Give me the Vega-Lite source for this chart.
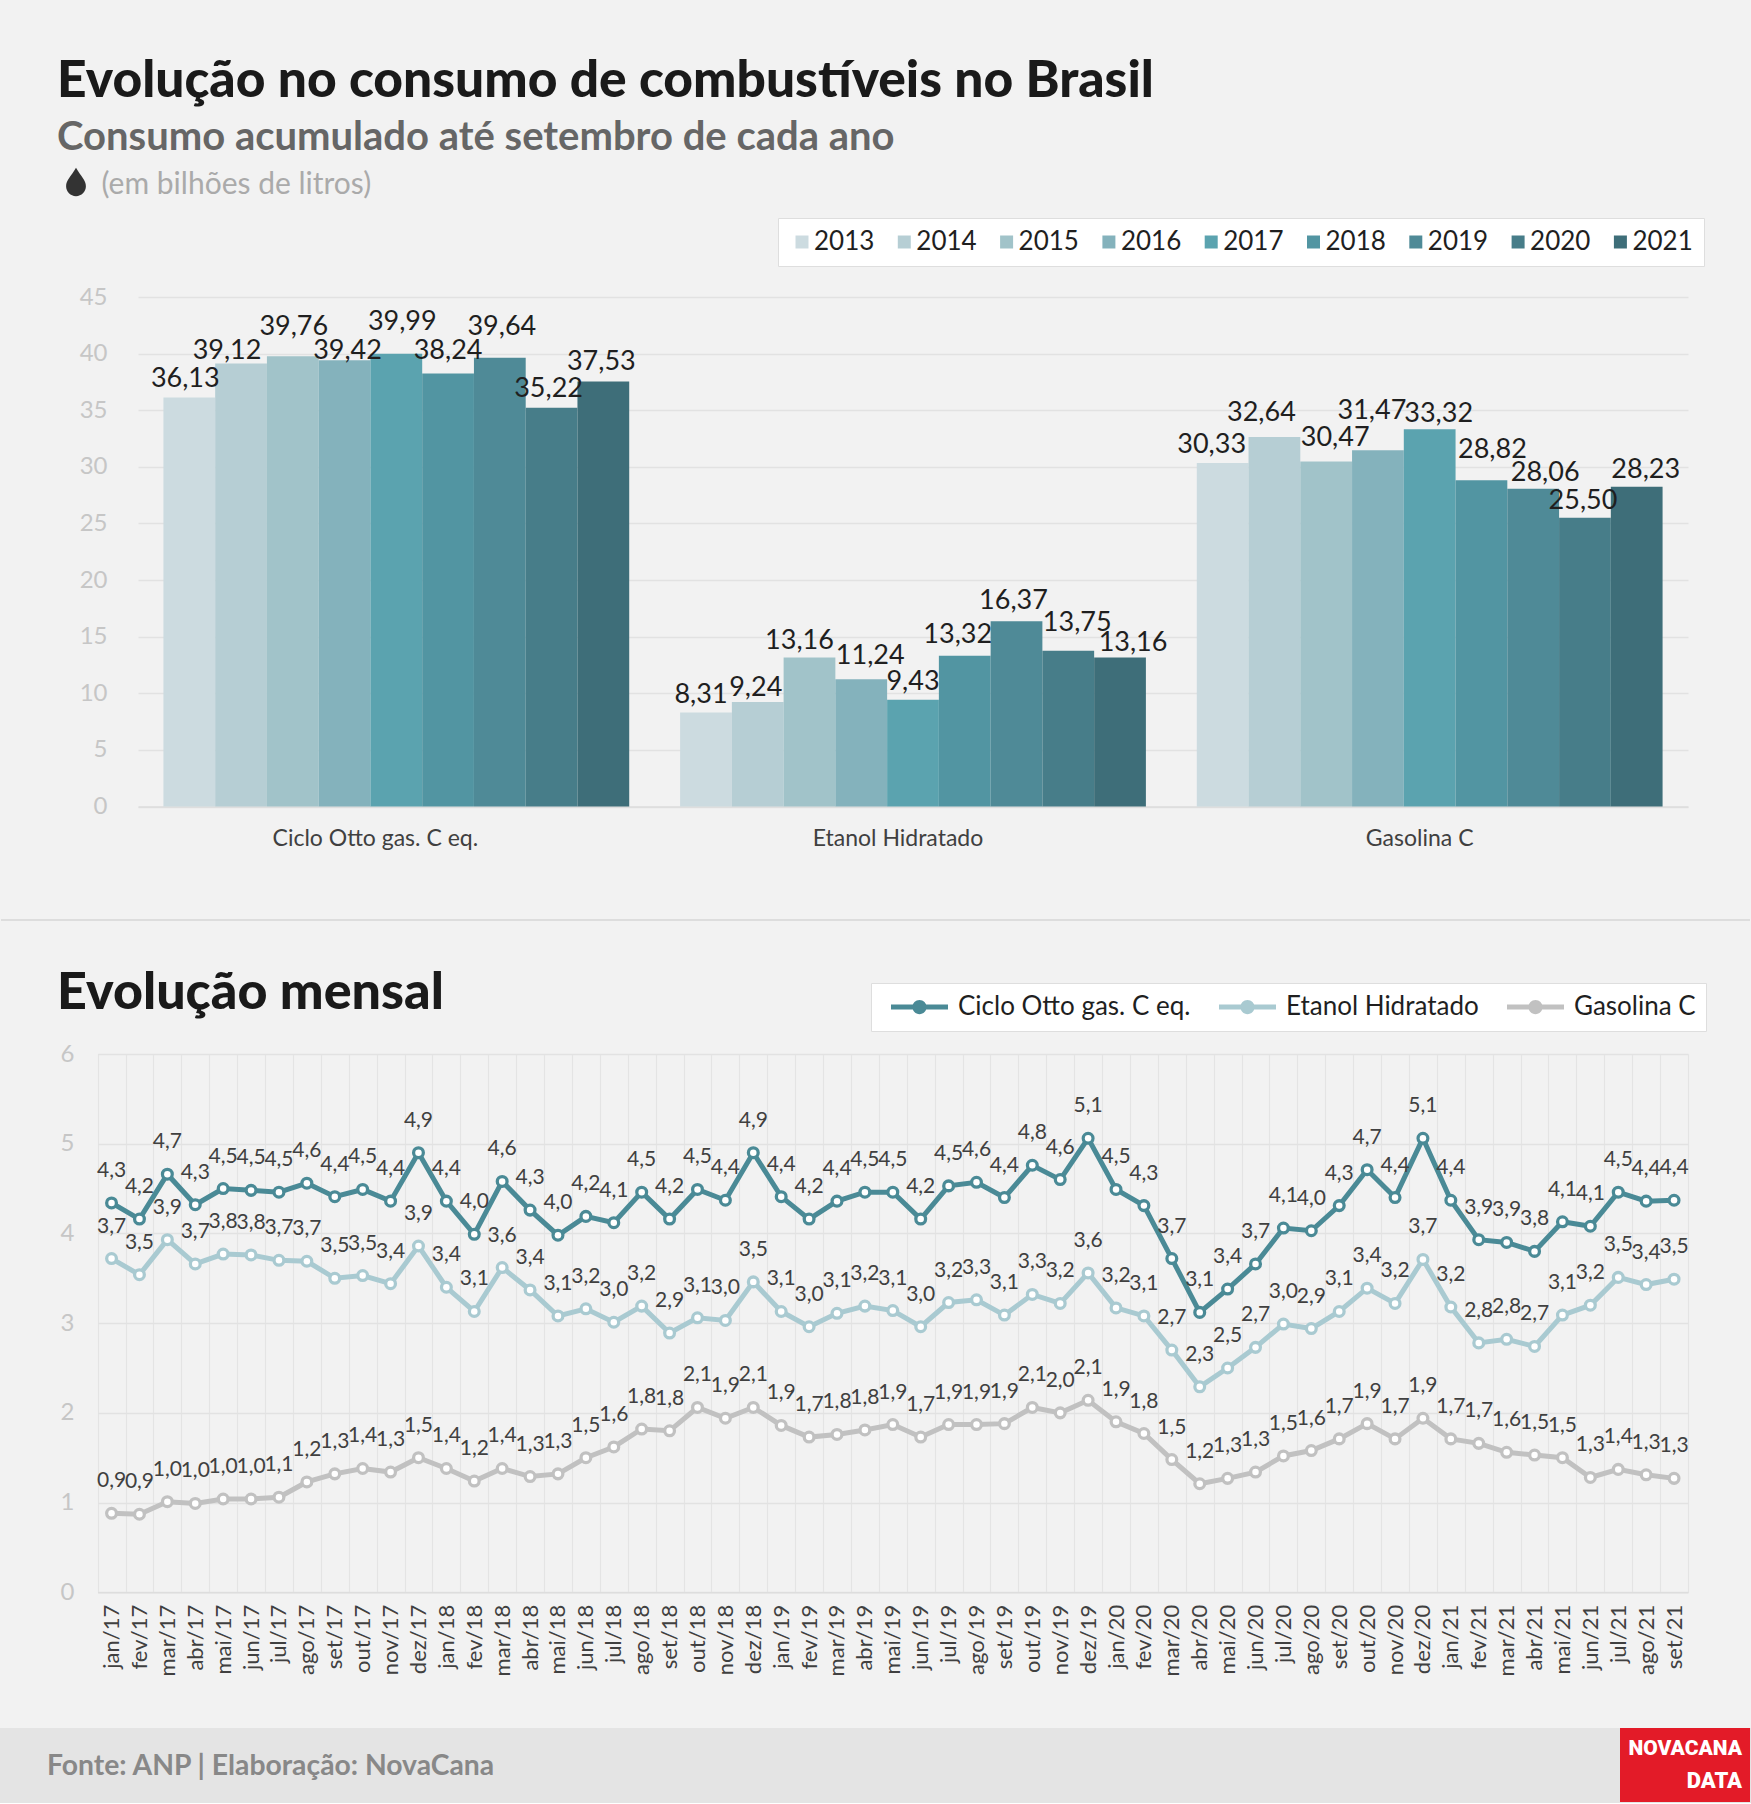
{
  "$schema": "https://vega.github.io/schema/vega-lite/v6.json",
  "background": "#f2f2f2",
  "padding": {"left": 0, "top": 56, "right": 0, "bottom": 0},
  "config": {
    "font": "Lato",
    "locale": {"number": {"decimal": ",", "thousands": ".", "grouping": [3], "currency": ["R$", ""]}},
    "view": {"stroke": null}
  },
  "spacing": 45,
  "resolve": {"scale": {"color": "independent"}, "legend": {"color": "independent"}},
  "datasets": {
    "acumulado": [
      {"combustivel": "Ciclo Otto gas. C eq.", "ano": 2013, "valor": 36.13},
      {"combustivel": "Ciclo Otto gas. C eq.", "ano": 2014, "valor": 39.12},
      {"combustivel": "Ciclo Otto gas. C eq.", "ano": 2015, "valor": 39.76},
      {"combustivel": "Ciclo Otto gas. C eq.", "ano": 2016, "valor": 39.42},
      {"combustivel": "Ciclo Otto gas. C eq.", "ano": 2017, "valor": 39.99},
      {"combustivel": "Ciclo Otto gas. C eq.", "ano": 2018, "valor": 38.24},
      {"combustivel": "Ciclo Otto gas. C eq.", "ano": 2019, "valor": 39.64},
      {"combustivel": "Ciclo Otto gas. C eq.", "ano": 2020, "valor": 35.22},
      {"combustivel": "Ciclo Otto gas. C eq.", "ano": 2021, "valor": 37.53},
      {"combustivel": "Etanol Hidratado", "ano": 2013, "valor": 8.31},
      {"combustivel": "Etanol Hidratado", "ano": 2014, "valor": 9.24},
      {"combustivel": "Etanol Hidratado", "ano": 2015, "valor": 13.16},
      {"combustivel": "Etanol Hidratado", "ano": 2016, "valor": 11.24},
      {"combustivel": "Etanol Hidratado", "ano": 2017, "valor": 9.43},
      {"combustivel": "Etanol Hidratado", "ano": 2018, "valor": 13.32},
      {"combustivel": "Etanol Hidratado", "ano": 2019, "valor": 16.37},
      {"combustivel": "Etanol Hidratado", "ano": 2020, "valor": 13.75},
      {"combustivel": "Etanol Hidratado", "ano": 2021, "valor": 13.16},
      {"combustivel": "Gasolina C", "ano": 2013, "valor": 30.33},
      {"combustivel": "Gasolina C", "ano": 2014, "valor": 32.64},
      {"combustivel": "Gasolina C", "ano": 2015, "valor": 30.47},
      {"combustivel": "Gasolina C", "ano": 2016, "valor": 31.47},
      {"combustivel": "Gasolina C", "ano": 2017, "valor": 33.32},
      {"combustivel": "Gasolina C", "ano": 2018, "valor": 28.82},
      {"combustivel": "Gasolina C", "ano": 2019, "valor": 28.06},
      {"combustivel": "Gasolina C", "ano": 2020, "valor": 25.5},
      {"combustivel": "Gasolina C", "ano": 2021, "valor": 28.23}
    ],
    "mensal": [
      {"mes":"jan/17","serie":"Ciclo Otto gas. C eq.","valor":4.34},{"mes":"fev/17","serie":"Ciclo Otto gas. C eq.","valor":4.16},{"mes":"mar/17","serie":"Ciclo Otto gas. C eq.","valor":4.66},{"mes":"abr/17","serie":"Ciclo Otto gas. C eq.","valor":4.32},{"mes":"mai/17","serie":"Ciclo Otto gas. C eq.","valor":4.5},{"mes":"jun/17","serie":"Ciclo Otto gas. C eq.","valor":4.48},{"mes":"jul/17","serie":"Ciclo Otto gas. C eq.","valor":4.46},{"mes":"ago/17","serie":"Ciclo Otto gas. C eq.","valor":4.56},{"mes":"set/17","serie":"Ciclo Otto gas. C eq.","valor":4.41},{"mes":"out/17","serie":"Ciclo Otto gas. C eq.","valor":4.49},{"mes":"nov/17","serie":"Ciclo Otto gas. C eq.","valor":4.36},{"mes":"dez/17","serie":"Ciclo Otto gas. C eq.","valor":4.9},
      {"mes":"jan/18","serie":"Ciclo Otto gas. C eq.","valor":4.36},{"mes":"fev/18","serie":"Ciclo Otto gas. C eq.","valor":3.99},{"mes":"mar/18","serie":"Ciclo Otto gas. C eq.","valor":4.58},{"mes":"abr/18","serie":"Ciclo Otto gas. C eq.","valor":4.26},{"mes":"mai/18","serie":"Ciclo Otto gas. C eq.","valor":3.98},{"mes":"jun/18","serie":"Ciclo Otto gas. C eq.","valor":4.19},{"mes":"jul/18","serie":"Ciclo Otto gas. C eq.","valor":4.12},{"mes":"ago/18","serie":"Ciclo Otto gas. C eq.","valor":4.46},{"mes":"set/18","serie":"Ciclo Otto gas. C eq.","valor":4.16},{"mes":"out/18","serie":"Ciclo Otto gas. C eq.","valor":4.49},{"mes":"nov/18","serie":"Ciclo Otto gas. C eq.","valor":4.37},{"mes":"dez/18","serie":"Ciclo Otto gas. C eq.","valor":4.9},
      {"mes":"jan/19","serie":"Ciclo Otto gas. C eq.","valor":4.41},{"mes":"fev/19","serie":"Ciclo Otto gas. C eq.","valor":4.16},{"mes":"mar/19","serie":"Ciclo Otto gas. C eq.","valor":4.36},{"mes":"abr/19","serie":"Ciclo Otto gas. C eq.","valor":4.46},{"mes":"mai/19","serie":"Ciclo Otto gas. C eq.","valor":4.46},{"mes":"jun/19","serie":"Ciclo Otto gas. C eq.","valor":4.16},{"mes":"jul/19","serie":"Ciclo Otto gas. C eq.","valor":4.53},{"mes":"ago/19","serie":"Ciclo Otto gas. C eq.","valor":4.57},{"mes":"set/19","serie":"Ciclo Otto gas. C eq.","valor":4.4},{"mes":"out/19","serie":"Ciclo Otto gas. C eq.","valor":4.76},{"mes":"nov/19","serie":"Ciclo Otto gas. C eq.","valor":4.6},{"mes":"dez/19","serie":"Ciclo Otto gas. C eq.","valor":5.06},
      {"mes":"jan/20","serie":"Ciclo Otto gas. C eq.","valor":4.49},{"mes":"fev/20","serie":"Ciclo Otto gas. C eq.","valor":4.31},{"mes":"mar/20","serie":"Ciclo Otto gas. C eq.","valor":3.72},{"mes":"abr/20","serie":"Ciclo Otto gas. C eq.","valor":3.12},{"mes":"mai/20","serie":"Ciclo Otto gas. C eq.","valor":3.38},{"mes":"jun/20","serie":"Ciclo Otto gas. C eq.","valor":3.66},{"mes":"jul/20","serie":"Ciclo Otto gas. C eq.","valor":4.06},{"mes":"ago/20","serie":"Ciclo Otto gas. C eq.","valor":4.03},{"mes":"set/20","serie":"Ciclo Otto gas. C eq.","valor":4.31},{"mes":"out/20","serie":"Ciclo Otto gas. C eq.","valor":4.71},{"mes":"nov/20","serie":"Ciclo Otto gas. C eq.","valor":4.4},{"mes":"dez/20","serie":"Ciclo Otto gas. C eq.","valor":5.06},
      {"mes":"jan/21","serie":"Ciclo Otto gas. C eq.","valor":4.37},{"mes":"fev/21","serie":"Ciclo Otto gas. C eq.","valor":3.93},{"mes":"mar/21","serie":"Ciclo Otto gas. C eq.","valor":3.9},{"mes":"abr/21","serie":"Ciclo Otto gas. C eq.","valor":3.8},{"mes":"mai/21","serie":"Ciclo Otto gas. C eq.","valor":4.13},{"mes":"jun/21","serie":"Ciclo Otto gas. C eq.","valor":4.08},{"mes":"jul/21","serie":"Ciclo Otto gas. C eq.","valor":4.46},{"mes":"ago/21","serie":"Ciclo Otto gas. C eq.","valor":4.36},{"mes":"set/21","serie":"Ciclo Otto gas. C eq.","valor":4.37},
      {"mes":"jan/17","serie":"Etanol Hidratado","valor":3.72},{"mes":"fev/17","serie":"Etanol Hidratado","valor":3.54},{"mes":"mar/17","serie":"Etanol Hidratado","valor":3.93},{"mes":"abr/17","serie":"Etanol Hidratado","valor":3.66},{"mes":"mai/17","serie":"Etanol Hidratado","valor":3.77},{"mes":"jun/17","serie":"Etanol Hidratado","valor":3.76},{"mes":"jul/17","serie":"Etanol Hidratado","valor":3.7},{"mes":"ago/17","serie":"Etanol Hidratado","valor":3.69},{"mes":"set/17","serie":"Etanol Hidratado","valor":3.5},{"mes":"out/17","serie":"Etanol Hidratado","valor":3.53},{"mes":"nov/17","serie":"Etanol Hidratado","valor":3.44},{"mes":"dez/17","serie":"Etanol Hidratado","valor":3.86},
      {"mes":"jan/18","serie":"Etanol Hidratado","valor":3.4},{"mes":"fev/18","serie":"Etanol Hidratado","valor":3.13},{"mes":"mar/18","serie":"Etanol Hidratado","valor":3.62},{"mes":"abr/18","serie":"Etanol Hidratado","valor":3.37},{"mes":"mai/18","serie":"Etanol Hidratado","valor":3.08},{"mes":"jun/18","serie":"Etanol Hidratado","valor":3.16},{"mes":"jul/18","serie":"Etanol Hidratado","valor":3.01},{"mes":"ago/18","serie":"Etanol Hidratado","valor":3.19},{"mes":"set/18","serie":"Etanol Hidratado","valor":2.89},{"mes":"out/18","serie":"Etanol Hidratado","valor":3.06},{"mes":"nov/18","serie":"Etanol Hidratado","valor":3.03},{"mes":"dez/18","serie":"Etanol Hidratado","valor":3.46},
      {"mes":"jan/19","serie":"Etanol Hidratado","valor":3.13},{"mes":"fev/19","serie":"Etanol Hidratado","valor":2.96},{"mes":"mar/19","serie":"Etanol Hidratado","valor":3.11},{"mes":"abr/19","serie":"Etanol Hidratado","valor":3.19},{"mes":"mai/19","serie":"Etanol Hidratado","valor":3.14},{"mes":"jun/19","serie":"Etanol Hidratado","valor":2.96},{"mes":"jul/19","serie":"Etanol Hidratado","valor":3.23},{"mes":"ago/19","serie":"Etanol Hidratado","valor":3.26},{"mes":"set/19","serie":"Etanol Hidratado","valor":3.09},{"mes":"out/19","serie":"Etanol Hidratado","valor":3.32},{"mes":"nov/19","serie":"Etanol Hidratado","valor":3.22},{"mes":"dez/19","serie":"Etanol Hidratado","valor":3.56},
      {"mes":"jan/20","serie":"Etanol Hidratado","valor":3.17},{"mes":"fev/20","serie":"Etanol Hidratado","valor":3.08},{"mes":"mar/20","serie":"Etanol Hidratado","valor":2.7},{"mes":"abr/20","serie":"Etanol Hidratado","valor":2.29},{"mes":"mai/20","serie":"Etanol Hidratado","valor":2.5},{"mes":"jun/20","serie":"Etanol Hidratado","valor":2.73},{"mes":"jul/20","serie":"Etanol Hidratado","valor":2.99},{"mes":"ago/20","serie":"Etanol Hidratado","valor":2.94},{"mes":"set/20","serie":"Etanol Hidratado","valor":3.13},{"mes":"out/20","serie":"Etanol Hidratado","valor":3.39},{"mes":"nov/20","serie":"Etanol Hidratado","valor":3.22},{"mes":"dez/20","serie":"Etanol Hidratado","valor":3.71},
      {"mes":"jan/21","serie":"Etanol Hidratado","valor":3.18},{"mes":"fev/21","serie":"Etanol Hidratado","valor":2.78},{"mes":"mar/21","serie":"Etanol Hidratado","valor":2.82},{"mes":"abr/21","serie":"Etanol Hidratado","valor":2.74},{"mes":"mai/21","serie":"Etanol Hidratado","valor":3.09},{"mes":"jun/21","serie":"Etanol Hidratado","valor":3.2},{"mes":"jul/21","serie":"Etanol Hidratado","valor":3.51},{"mes":"ago/21","serie":"Etanol Hidratado","valor":3.43},{"mes":"set/21","serie":"Etanol Hidratado","valor":3.49},
      {"mes":"jan/17","serie":"Gasolina C","valor":0.88},{"mes":"fev/17","serie":"Gasolina C","valor":0.87},{"mes":"mar/17","serie":"Gasolina C","valor":1.01},{"mes":"abr/17","serie":"Gasolina C","valor":0.99},{"mes":"mai/17","serie":"Gasolina C","valor":1.04},{"mes":"jun/17","serie":"Gasolina C","valor":1.04},{"mes":"jul/17","serie":"Gasolina C","valor":1.06},{"mes":"ago/17","serie":"Gasolina C","valor":1.23},{"mes":"set/17","serie":"Gasolina C","valor":1.32},{"mes":"out/17","serie":"Gasolina C","valor":1.38},{"mes":"nov/17","serie":"Gasolina C","valor":1.34},{"mes":"dez/17","serie":"Gasolina C","valor":1.5},
      {"mes":"jan/18","serie":"Gasolina C","valor":1.38},{"mes":"fev/18","serie":"Gasolina C","valor":1.24},{"mes":"mar/18","serie":"Gasolina C","valor":1.38},{"mes":"abr/18","serie":"Gasolina C","valor":1.29},{"mes":"mai/18","serie":"Gasolina C","valor":1.32},{"mes":"jun/18","serie":"Gasolina C","valor":1.5},{"mes":"jul/18","serie":"Gasolina C","valor":1.62},{"mes":"ago/18","serie":"Gasolina C","valor":1.82},{"mes":"set/18","serie":"Gasolina C","valor":1.8},{"mes":"out/18","serie":"Gasolina C","valor":2.06},{"mes":"nov/18","serie":"Gasolina C","valor":1.94},{"mes":"dez/18","serie":"Gasolina C","valor":2.06},
      {"mes":"jan/19","serie":"Gasolina C","valor":1.86},{"mes":"fev/19","serie":"Gasolina C","valor":1.73},{"mes":"mar/19","serie":"Gasolina C","valor":1.76},{"mes":"abr/19","serie":"Gasolina C","valor":1.81},{"mes":"mai/19","serie":"Gasolina C","valor":1.87},{"mes":"jun/19","serie":"Gasolina C","valor":1.73},{"mes":"jul/19","serie":"Gasolina C","valor":1.87},{"mes":"ago/19","serie":"Gasolina C","valor":1.87},{"mes":"set/19","serie":"Gasolina C","valor":1.88},{"mes":"out/19","serie":"Gasolina C","valor":2.06},{"mes":"nov/19","serie":"Gasolina C","valor":2.0},{"mes":"dez/19","serie":"Gasolina C","valor":2.14},
      {"mes":"jan/20","serie":"Gasolina C","valor":1.9},{"mes":"fev/20","serie":"Gasolina C","valor":1.77},{"mes":"mar/20","serie":"Gasolina C","valor":1.48},{"mes":"abr/20","serie":"Gasolina C","valor":1.21},{"mes":"mai/20","serie":"Gasolina C","valor":1.27},{"mes":"jun/20","serie":"Gasolina C","valor":1.34},{"mes":"jul/20","serie":"Gasolina C","valor":1.52},{"mes":"ago/20","serie":"Gasolina C","valor":1.58},{"mes":"set/20","serie":"Gasolina C","valor":1.71},{"mes":"out/20","serie":"Gasolina C","valor":1.88},{"mes":"nov/20","serie":"Gasolina C","valor":1.71},{"mes":"dez/20","serie":"Gasolina C","valor":1.94},
      {"mes":"jan/21","serie":"Gasolina C","valor":1.71},{"mes":"fev/21","serie":"Gasolina C","valor":1.66},{"mes":"mar/21","serie":"Gasolina C","valor":1.56},{"mes":"abr/21","serie":"Gasolina C","valor":1.53},{"mes":"mai/21","serie":"Gasolina C","valor":1.5},{"mes":"jun/21","serie":"Gasolina C","valor":1.28},{"mes":"jul/21","serie":"Gasolina C","valor":1.37},{"mes":"ago/21","serie":"Gasolina C","valor":1.31},{"mes":"set/21","serie":"Gasolina C","valor":1.27}
    ]
  },
  "vconcat": [
    {
      "width": 1550,
      "height": 509.5,
      "title": {
        "text": "Evolução no consumo de combustíveis no Brasil",
        "subtitle": "Consumo acumulado até setembro de cada ano",
        "anchor": "start",
        "frame": "group",
        "dx": -81,
        "offset": 10,
        "font": "Lato",
        "fontSize": 51.5,
        "fontWeight": 900,
        "color": "#1a1a1a",
        "subtitleFont": "Lato",
        "subtitleFontSize": 40,
        "subtitleFontWeight": 700,
        "subtitleColor": "#666666",
        "subtitlePadding": 10
      },
      "layer": [
        {
          "data": {"name": "acumulado"},
          "mark": {"type": "bar"},
          "encoding": {
            "x": {
              "field": "combustivel",
              "type": "nominal",
              "sort": null,
              "title": null,
              "scale": {"paddingInner": 0.0985, "paddingOuter": 0.0492},
              "axis": {
                "labelAngle": 0,
                "labelFontSize": 23,
                "labelLimit": 400,
                "labelColor": "#404040",
                "labelPadding": 21,
                "labelOffset": {"expr": "datum.label == 'Gasolina C' ? -10 : datum.label == 'Etanol Hidratado' ? -15 : -21"},
                "ticks": false,
                "domainColor": "#dddddd",
                "domainWidth": 1.5
              }
            },
            "xOffset": {"field": "ano", "type": "nominal", "sort": null},
            "y": {
              "field": "valor",
              "type": "quantitative",
              "scale": {"domain": [0, 45], "nice": false},
              "axis": {
                "values": [0, 5, 10, 15, 20, 25, 30, 35, 40, 45],
                "format": "d",
                "title": "(em bilhões de litros)",
                "titleAngle": 0,
                "titleX": -37,
                "titleY": -104,
                "titleAlign": "left",
                "titleBaseline": "alphabetic",
                "titleColor": "#aaaaaa",
                "titleFontSize": 30,
                "titleFontWeight": "normal",
                "labelFontSize": 24,
                "labelColor": "#c6c6c6",
                "labelPadding": 31,
                "ticks": false,
                "domain": false,
                "grid": true,
                "gridColor": "#e2e2e2",
                "gridWidth": 1.5
              }
            },
            "color": {
              "field": "ano",
              "type": "nominal",
              "scale": {
                "domain": [2013, 2014, 2015, 2016, 2017, 2018, 2019, 2020, 2021],
                "range": ["#ccdbe0", "#b6ced4", "#a1c3c9", "#84b2bc", "#5ba3af", "#5295a2", "#4f8a97", "#477d89", "#3e6e79"]
              },
              "legend": {
                "title": null,
                "orient": "none",
                "legendX": 640,
                "legendY": -79,
                "direction": "horizontal",
                "columns": 9,
                "symbolType": "square",
                "symbolSize": 169,
                "symbolStrokeWidth": 0,
                "labelFontSize": 26,
                "labelColor": "#1f1f1f",
                "labelOffset": -1,
                "columnPadding": 16.3,
                "padding": 11,
                "fillColor": "#ffffff",
                "strokeColor": "#dedede"
              }
            }
          }
        },
        {
          "data": {"name": "acumulado"},
          "mark": {
            "type": "text",
            "baseline": "middle",
            "fontSize": 27,
            "color": "#1f1f1f",
            "dx": {"expr": "[[-4,-14,1,3,6,0,2,-3,-2],[-5,-2,-10,9,0,-7,-3,9,13],[-11,-13,9,-6,9,11,12,-2,9]][indexof(['Ciclo Otto gas. C eq.','Etanol Hidratado','Gasolina C'],datum.combustivel)][datum.ano-2013]"},
            "dy": {"expr": "-[[18,13,29,9,32,23,31,19,20],[17,14,16,23,18,21,20,28,14],[18,24,24,39,15,30,16,17,17]][indexof(['Ciclo Otto gas. C eq.','Etanol Hidratado','Gasolina C'],datum.combustivel)][datum.ano-2013]"}
          },
          "encoding": {
            "x": {"field": "combustivel", "type": "nominal", "sort": null},
            "xOffset": {"field": "ano", "type": "nominal", "sort": null},
            "y": {"field": "valor", "type": "quantitative"},
            "text": {"field": "valor", "type": "quantitative", "format": ".2f"}
          }
        },
        {
          "data": {"values": [{"icone": "gota"}]},
          "mark": {
            "type": "point",
            "filled": true,
            "color": "#333333",
            "opacity": 1,
            "shape": "M0,-1C0.35,-0.4 0.7,-0.1 0.7,0.3A0.7,0.7 0 0 1 -0.7,0.3C-0.7,-0.1 -0.35,-0.4 0,-1Z",
            "size": 800
          },
          "encoding": {"x": {"value": -62}, "y": {"value": -115}}
        },
        {
          "data": {"values": [{"separador": "secao"}]},
          "mark": {"type": "rule", "color": "#dddddd", "strokeWidth": 2},
          "encoding": {"x": {"value": -137}, "x2": {"value": 1612}, "y": {"value": 623}}
        }
      ]
    },
    {
      "width": 1550,
      "height": 538.3,
      "title": {
        "text": "Evolução mensal",
        "anchor": "start",
        "frame": "group",
        "dx": -81,
        "offset": -37,
        "font": "Lato",
        "fontSize": 52,
        "fontWeight": 900,
        "color": "#1a1a1a"
      },
      "layer": [
        {
          "data": {"name": "mensal"},
          "mark": {"type": "point", "filled": true, "opacity": 1, "size": 170},
          "encoding": {
            "x": {
              "field": "mes",
              "type": "nominal",
              "sort": null,
              "title": null,
              "scale": {"type": "band", "paddingInner": 0, "paddingOuter": 0, "range": [-40.4, 1550]},
              "axis": {
                "labelAngle": -90,
                "labelFontSize": 22,
                "labelColor": "#404040",
                "labelPadding": 12,
                "ticks": false,
                "tickBand": "extent",
                "grid": true,
                "gridColor": "#e4e4e4",
                "gridWidth": 1.2,
                "domainColor": "#dddddd",
                "domainWidth": 1.5
              }
            },
            "y": {
              "field": "valor",
              "type": "quantitative",
              "title": null,
              "scale": {"domain": [0, 6], "nice": false},
              "axis": {
                "values": [0, 1, 2, 3, 4, 5, 6],
                "format": "d",
                "labelFontSize": 24,
                "labelColor": "#c6c6c6",
                "labelPadding": 64,
                "ticks": false,
                "domain": false,
                "grid": true,
                "gridColor": "#e2e2e2",
                "gridWidth": 1.5
              }
            },
            "color": {
              "field": "serie",
              "type": "nominal",
              "scale": {
                "domain": ["Ciclo Otto gas. C eq.", "Etanol Hidratado", "Gasolina C"],
                "range": ["#4a8a96", "#a9cad1", "#c1c1c1"]
              },
              "legend": {
                "title": null,
                "orient": "none",
                "legendX": 733,
                "legendY": -71,
                "direction": "horizontal",
                "columns": 3,
                "symbolType": "M-1,-0.09H1V0.09H-1ZM0.25,0A0.25,0.25 0 1 1 -0.25,0A0.25,0.25 0 1 1 0.25,0Z",
                "symbolSize": 3249,
                "symbolOffset": 10,
                "symbolStrokeWidth": 0,
                "clipHeight": 28,
                "labelFontSize": 26,
                "labelLimit": 400,
                "labelColor": "#1f1f1f",
                "labelOffset": 10,
                "columnPadding": 18,
                "padding": 10,
                "fillColor": "#ffffff",
                "strokeColor": "#dedede"
              }
            }
          }
        },
        {
          "data": {"name": "mensal"},
          "mark": {"type": "line", "strokeWidth": 5},
          "encoding": {
            "x": {"field": "mes", "type": "nominal", "sort": null},
            "y": {"field": "valor", "type": "quantitative"},
            "color": {"field": "serie", "type": "nominal", "legend": null}
          }
        },
        {
          "data": {"name": "mensal"},
          "mark": {"type": "point", "filled": true, "opacity": 1, "size": 42, "color": "#ffffff"},
          "encoding": {
            "x": {"field": "mes", "type": "nominal", "sort": null},
            "y": {"field": "valor", "type": "quantitative"}
          }
        },
        {
          "data": {"name": "mensal"},
          "mark": {"type": "text", "baseline": "middle", "dy": -32, "fontSize": 21, "color": "#404040"},
          "encoding": {
            "x": {"field": "mes", "type": "nominal", "sort": null},
            "y": {"field": "valor", "type": "quantitative"},
            "text": {"field": "valor", "type": "quantitative", "format": ".1f"}
          }
        },
        {
          "data": {"values": [{"faixa": "rodape"}]},
          "mark": {"type": "rect", "color": "#e4e4e4"},
          "encoding": {
            "x": {"value": -138},
            "x2": {"value": 1613},
            "y": {"value": 674},
            "y2": {"value": 749}
          }
        },
        {
          "data": {"values": [{"fonte": "Fonte: ANP | Elaboração: NovaCana"}]},
          "mark": {"type": "text", "align": "left", "baseline": "alphabetic", "fontSize": 28.3, "fontWeight": 700, "color": "#888888"},
          "encoding": {
            "x": {"value": -91},
            "y": {"value": 721},
            "text": {"field": "fonte"}
          }
        },
        {
          "data": {"values": [{"logo": "NovaCana Data"}]},
          "mark": {"type": "rect", "color": "#e31b28"},
          "encoding": {
            "x": {"value": 1482},
            "x2": {"value": 1612},
            "y": {"value": 674},
            "y2": {"value": 748}
          }
        },
        {
          "data": {"values": [{"logo": "NOVACANA"}]},
          "mark": {"type": "text", "align": "right", "baseline": "middle", "font": "Roboto", "fontSize": 21, "fontWeight": 900, "color": "#ffffff"},
          "encoding": {
            "x": {"value": 1604},
            "y": {"value": 694.5},
            "text": {"field": "logo"}
          }
        },
        {
          "data": {"values": [{"logo": "DATA"}]},
          "mark": {"type": "text", "align": "right", "baseline": "middle", "font": "Roboto", "fontSize": 22, "fontWeight": 900, "color": "#ffffff"},
          "encoding": {
            "x": {"value": 1604},
            "y": {"value": 727},
            "text": {"field": "logo"}
          }
        }
      ]
    }
  ]
}
